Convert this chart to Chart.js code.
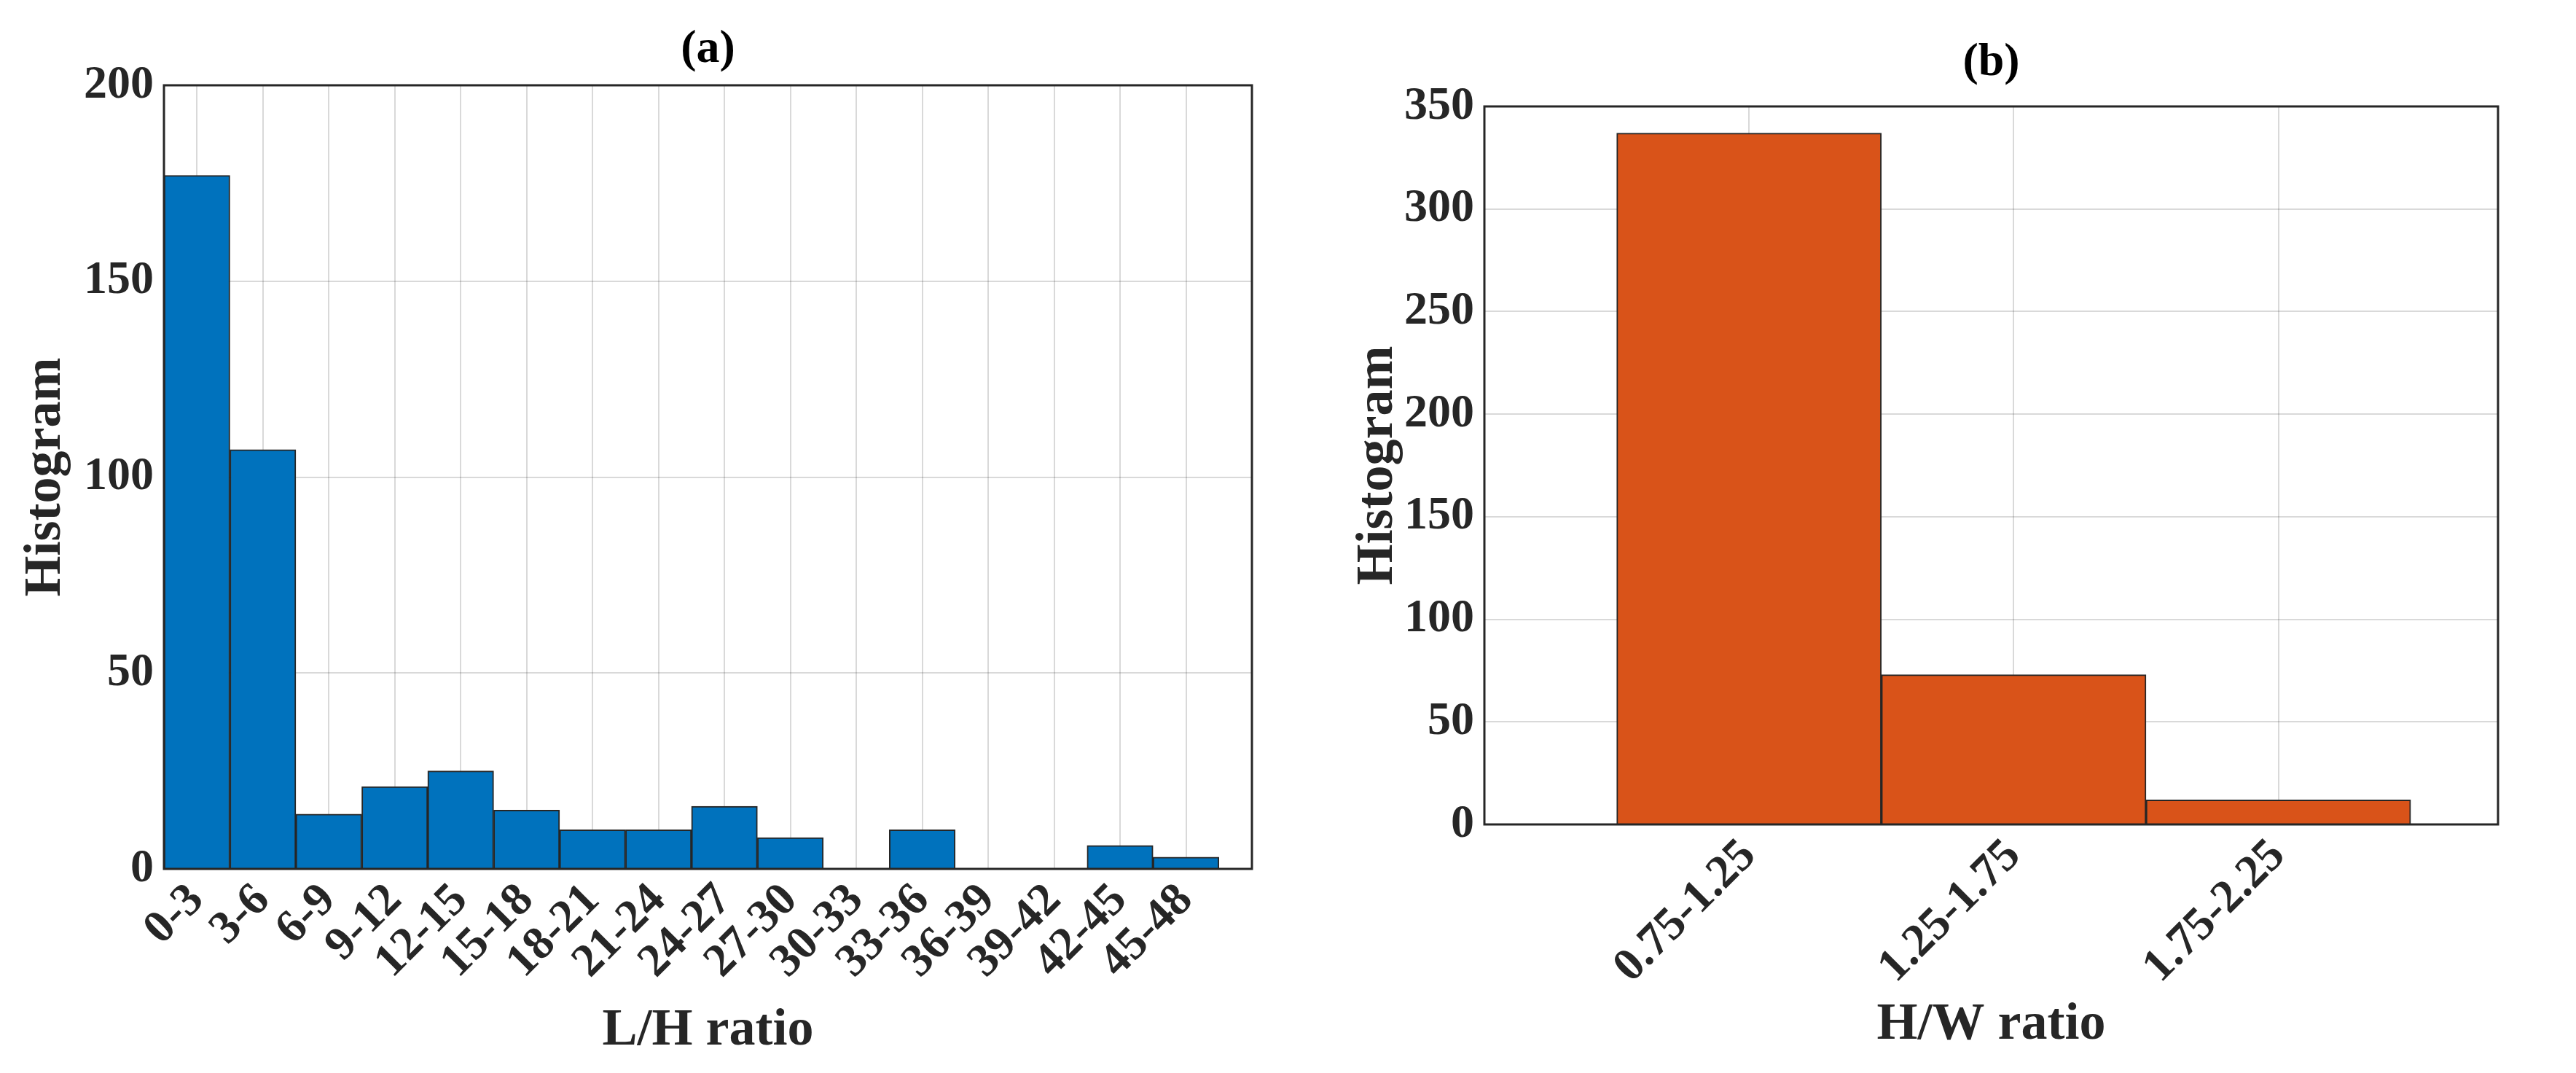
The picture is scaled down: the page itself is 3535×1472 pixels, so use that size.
<!DOCTYPE html>
<html lang="en">
<head>
    <meta charset="UTF-8">
    <title>Histograms</title>
    <script src="https://cdn.jsdelivr.net/npm/chart.js@4.4.0/dist/chart.umd.min.js"></script>
    <style>
        body { margin: 0; background: #fff; width: 3535px; height: 1472px; overflow: hidden; }
        .box { position: absolute; top: 0; height: 1472px; }
        #boxA { left: 0; width: 1780px; }
        #boxB { left: 1780px; width: 1755px; }
    </style>
</head>
<body>
    <div class="box" id="boxA"><canvas id="chartA"></canvas></div>
    <div class="box" id="boxB"><canvas id="chartB"></canvas></div>

<script>
    const lhLabels = ['0-3', '3-6', '6-9', '9-12', '12-15', '15-18', '18-21', '21-24',
        '24-27', '27-30', '30-33', '33-36', '36-39', '39-42', '42-45', '45-48'];
    const lhCounts = [177, 107, 14, 21, 25, 15, 10, 10, 16, 8, 0, 10, 0, 0, 6, 3];
    const lhTicks = [0, 50, 100, 150, 200];

    const hwLabels = ['0.75-1.25', '1.25-1.75', '1.75-2.25'];
    const hwCounts = [337, 73, 12];
    const hwTicks = [0, 50, 100, 150, 200, 250, 300, 350];

    const fontFamily = '"Liberation Serif", "Times New Roman", serif';
    Chart.defaults.font.family = fontFamily;
    Chart.defaults.font.weight = 'bold';
    Chart.defaults.color = '#262626';

    // frame around plot area + panel title
    const framePlugin = {
        id: 'frame',
        afterDraw(chart, args, opts) {
            const { ctx, chartArea: a } = chart;
            ctx.save();
            ctx.strokeStyle = '#262626';
            ctx.lineWidth = 3;
            ctx.strokeRect(a.left, a.top, a.right - a.left, a.bottom - a.top);
            ctx.fillStyle = '#000';
            ctx.font = 'bold 64px ' + fontFamily;
            ctx.textAlign = 'center';
            ctx.textBaseline = 'middle';
            ctx.fillText(opts.text, (a.left + a.right) / 2, opts.y);
            ctx.restore();
        }
    };

    function makeHist(id, labels, counts, ticks, color, cfg) {
        const points = counts.map((v, i) => ({ x: i, y: v }));
        return new Chart(document.getElementById(id), {
            type: 'bar',
            data: {
                datasets: [{
                    data: points,
                    backgroundColor: color,
                    borderColor: '#262626',
                    borderWidth: 2,
                    barPercentage: 1,
                    categoryPercentage: 1
                }]
            },
            options: {
                responsive: true,
                maintainAspectRatio: false,
                animation: false,
                layout: { padding: { top: cfg.top, right: cfg.right, left: 0, bottom: 0 } },
                plugins: {
                    legend: { display: false },
                    tooltip: { enabled: false },
                    frame: { text: cfg.title, y: cfg.titleY }
                },
                scales: {
                    x: {
                        type: 'linear',
                        offset: false,
                        min: cfg.xMin,
                        max: cfg.xMax,
                        afterBuildTicks(scale) {
                            scale.ticks = labels.map((l, i) => ({ value: i }));
                        },
                        afterFit(scale) { scale.height = cfg.xHeight; },
                        ticks: {
                            callback: (v) => labels[v],
                            maxRotation: 45,
                            minRotation: 45,
                            autoSkip: false,
                            font: { size: 64 },
                            padding: 6
                        },
                        grid: { offset: false, color: 'rgba(0,0,0,0.15)', lineWidth: 2, tickLength: 0 },
                        border: { display: false },
                        title: {
                            display: true,
                            text: cfg.xTitle,
                            font: { size: 72 },
                            padding: { top: 0, bottom: cfg.xTitlePad }
                        }
                    },
                    y: {
                        min: ticks[0],
                        max: ticks[ticks.length - 1],
                        afterBuildTicks(scale) {
                            scale.ticks = ticks.map(v => ({ value: v }));
                        },
                        afterFit(scale) { scale.width = cfg.yWidth; },
                        ticks: { font: { size: 64 }, padding: 14 },
                        grid: { color: 'rgba(0,0,0,0.15)', lineWidth: 2, tickLength: 0 },
                        border: { display: false },
                        title: {
                            display: true,
                            text: 'Histogram',
                            font: { size: 72 },
                            padding: { top: cfg.yTitlePad, bottom: 0 }
                        }
                    }
                }
            },
            plugins: [framePlugin]
        });
    }

    makeHist('chartA', lhLabels, lhCounts, lhTicks, '#0072BD', {
        top: 117, right: 62, xHeight: 280, yWidth: 225,
        xMin: -0.5, xMax: 16, title: '(a)', titleY: 68,
        xTitle: 'L/H ratio', xTitlePad: 14, yTitlePad: 20
    });

    makeHist('chartB', hwLabels, hwCounts, hwTicks, '#D95319', {
        top: 146, right: 107, xHeight: 341, yWidth: 257,
        xMin: -1, xMax: 2.83, title: '(b)', titleY: 86,
        xTitle: 'H/W ratio', xTitlePad: 22, yTitlePad: 68
    });
</script>
</body>
</html>
